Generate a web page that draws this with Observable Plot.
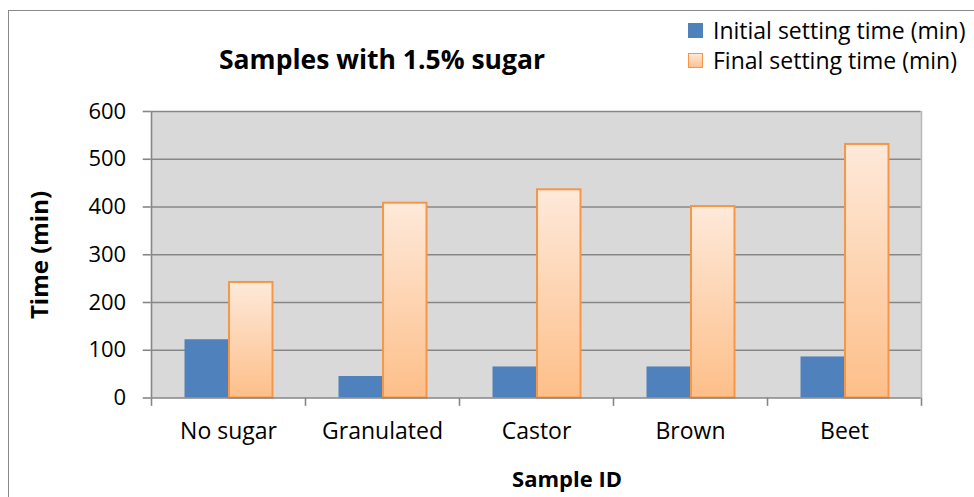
<!DOCTYPE html>
<html>
<head>
<meta charset="utf-8">
<script src="https://cdn.jsdelivr.net/npm/d3@7"></script>
<script src="https://cdn.jsdelivr.net/npm/@observablehq/plot@0.6"></script>
<style>
  html, body { margin: 0; padding: 0; background: #fff; }
  #wrap { position: relative; width: 974px; height: 497px; overflow: hidden; font-family: "Open Sans", Lato, sans-serif; color: #000; }
  #border { position: absolute; left: 8px; top: 10px; width: 2000px; height: 2000px; border-left: 1.5px solid #898989; border-top: 1.5px solid #898989; box-sizing: border-box; }
  .abs { position: absolute; white-space: nowrap; }
  #title { left: 382px; top: 59px; transform: translate(-50%, -50%); font-weight: bold; font-size: 26.5px; }
  #ytitle { left: 38px; top: 255px; transform: translate(-50%, -50%) rotate(-90deg); font-weight: bold; font-size: 24px; }
  #xtitle { left: 567px; top: 478px; transform: translate(-50%, -50%); font-weight: bold; font-size: 22px; }
  .leg { font-size: 23px; display: flex; align-items: center; height: 30px; }
  .sw { width: 15px; height: 15px; margin-right: 10px; box-sizing: border-box; flex: none; }
  #plot { position: absolute; left: 0; top: 0; }
  #plot svg text { font-family: "Open Sans", Lato, sans-serif !important; fill: #000; }
  #plot svg g[aria-label="y-axis tick label"] text { font-size: 22px !important; }
  #plot svg g[aria-label="x-axis tick label"] text { font-size: 23px !important; }
</style>
</head>
<body>
<div id="wrap">
  <div id="plot"></div>
  <div id="border"></div>
  <div id="title" class="abs">Samples with 1.5% sugar</div>
  <div id="ytitle" class="abs">Time (min)</div>
  <div id="xtitle" class="abs">Sample ID</div>
  <div class="abs leg" style="left:688px; top:15px;"><div class="sw" style="background:#4f81bd"></div><span>Initial setting time (min)</span></div>
  <div class="abs leg" style="left:688px; top:45px;"><div class="sw" style="background:linear-gradient(#fee8d9,#fdc291); border:1.5px solid #f79646"></div><span>Final setting time (min)</span></div>
</div>
<script>
const categories = ["No sugar", "Granulated", "Castor", "Brown", "Beet"];
const initialTimes = [122, 45, 65, 65, 86];
const finalTimes = [242, 408, 436, 401, 531];
const yTicks = [0, 100, 200, 300, 400, 500, 600];

const initialData = categories.map((c, i) => ({category: c, value: initialTimes[i]}));
const finalData = categories.map((c, i) => ({category: c, value: finalTimes[i]}));

const W = 974, H = 497;
const mL = 150.7, mR = 53.3, mT = 111, mB = 99.5;
const step = (W - mL - mR) / categories.length;
const half = step / 2;
const barW = 43.5;
const last = categories[categories.length - 1];

const chart = Plot.plot({
  width: W,
  height: H,
  marginLeft: mL,
  marginRight: mR,
  marginTop: mT,
  marginBottom: mB,
  style: {fontFamily: "'Open Sans', Lato, sans-serif", fontSize: "22px", color: "#000", background: "transparent"},
  x: {type: "band", domain: categories, padding: 0, label: null},
  y: {domain: [0, 600], label: null},
  marks: [
    Plot.frame({fill: "#d9d9d9", stroke: null}),
    Plot.ruleY(yTicks.filter(d => d > 0), {stroke: "#878787", strokeWidth: 1.6}),
    Plot.ruleX([last], {dx: half, y1: 0, y2: 600, stroke: "#b8b8b8", strokeWidth: 1.5}),
    Plot.barY(initialData, {x: "category", y: "value", fill: "#4f81bd", insetLeft: half - barW, insetRight: half}),
    Plot.barY(finalData, {x: "category", y: "value", fill: "url(#orangeGrad)", stroke: "#f79646", strokeWidth: 2, insetLeft: half + 1, insetRight: half - barW - 1}),
    Plot.ruleY([0], {stroke: "#868686", strokeWidth: 1.6}),
    Plot.ruleX([categories[0]], {dx: -half, y1: 0, y2: 600, stroke: "#868686", strokeWidth: 1.6}),
    Plot.ruleX(categories, {x: d => d, dx: -half, y1: 0, y2: -17.5, stroke: "#868686", strokeWidth: 1.6}),
    Plot.ruleX([last], {dx: half, y1: 0, y2: -17.5, stroke: "#868686", strokeWidth: 1.6}),
    Plot.axisY({ticks: yTicks, tickSize: 8, tickPadding: 17, stroke: "#868686", strokeWidth: 1.6, fontSize: 22, label: null, tickFormat: d => String(d)}),
    Plot.axisX({tickSize: 0, tickPadding: 25, fontSize: 23, label: null})
  ]
});

// gradient definition for the final-time bars
const ns = "http://www.w3.org/2000/svg";
const defs = document.createElementNS(ns, "defs");
const grad = document.createElementNS(ns, "linearGradient");
grad.setAttribute("id", "orangeGrad");
grad.setAttribute("x1", "0"); grad.setAttribute("y1", "0");
grad.setAttribute("x2", "0"); grad.setAttribute("y2", "1");
[["0%", "#fee9da"], ["100%", "#fdbf89"]].forEach(([o, c]) => {
  const s = document.createElementNS(ns, "stop");
  s.setAttribute("offset", o); s.setAttribute("stop-color", c);
  grad.appendChild(s);
});
defs.appendChild(grad);
chart.insertBefore(defs, chart.firstChild);

document.getElementById("plot").appendChild(chart);
</script>
</body>
</html>
